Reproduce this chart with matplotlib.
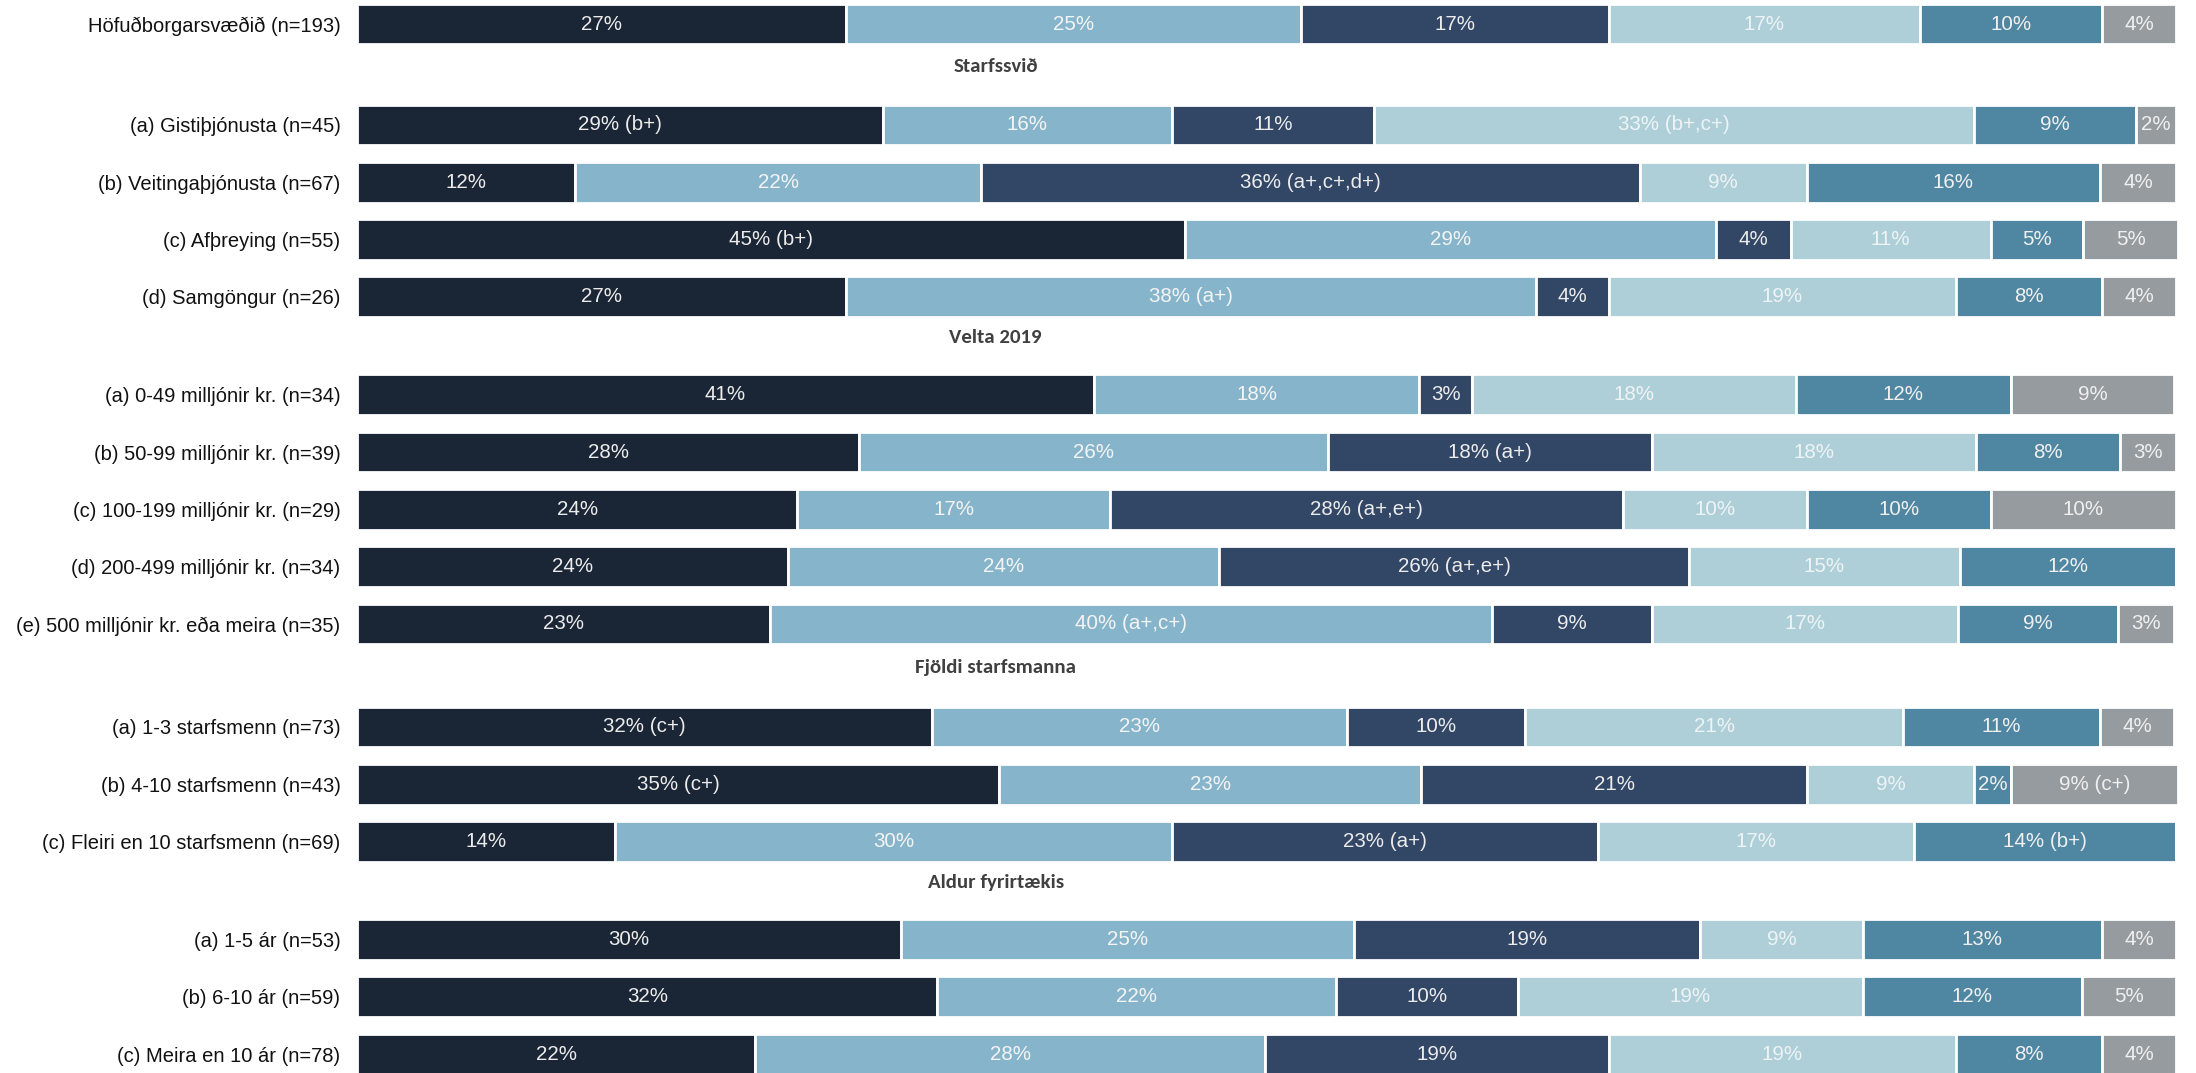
import matplotlib
matplotlib.use("Agg")
import matplotlib.pyplot as plt
import numpy as np

# Rows, grouped under bold section headers (first row has no header)
groups = ["", "Starfssvið", "Velta 2019", "Fjöldi starfsmanna", "Aldur fyrirtækis"]
row_labels = [
    ["Höfuðborgarsvæðið (n=193)"],
    ["(a) Gistiþjónusta (n=45)", "(b) Veitingaþjónusta (n=67)",
     "(c) Afþreying (n=55)", "(d) Samgöngur (n=26)"],
    ["(a) 0-49 milljónir kr. (n=34)", "(b) 50-99 milljónir kr. (n=39)",
     "(c) 100-199 milljónir kr. (n=29)", "(d) 200-499 milljónir kr. (n=34)",
     "(e) 500 milljónir kr. eða meira (n=35)"],
    ["(a) 1-3 starfsmenn (n=73)", "(b) 4-10 starfsmenn (n=43)",
     "(c) Fleiri en 10 starfsmenn (n=69)"],
    ["(a) 1-5 ár (n=53)", "(b) 6-10 ár (n=59)", "(c) Meira en 10 ár (n=78)"],
]

# Segment shares (%) per row, six answer categories
values = [
    [26.9, 25.0, 16.9, 17.1, 10.0, 4.1],
    [28.9, 15.9, 11.1, 33.0, 8.9, 2.2],
    [12.0, 22.3, 36.2, 9.2, 16.1, 4.2],
    [45.5, 29.2, 4.1, 11.0, 5.1, 5.2],
    [26.9, 37.9, 4.0, 19.1, 8.0, 4.1],
    [40.5, 17.9, 2.9, 17.8, 11.8, 9.0],
    [27.6, 25.8, 17.8, 17.8, 7.9, 3.1],
    [24.2, 17.2, 28.2, 10.1, 10.1, 10.2],
    [23.7, 23.7, 25.8, 14.9, 11.9, 0.0],
    [22.7, 39.7, 8.8, 16.8, 8.8, 3.1],
    [31.6, 22.8, 9.8, 20.8, 10.8, 4.1],
    [35.3, 23.2, 21.2, 9.2, 2.0, 9.2],
    [14.2, 30.6, 23.4, 17.4, 14.4, 0.0],
    [29.9, 24.9, 19.0, 9.0, 13.1, 4.1],
    [31.9, 21.9, 10.0, 19.0, 12.0, 5.2],
    [21.9, 28.0, 18.9, 19.1, 8.0, 4.1],
]

# Text printed inside each segment ("" = no label)
seg_text = [
    ["27%", "25%", "17%", "17%", "10%", "4%"],
    ["29% (b+)", "16%", "11%", "33% (b+,c+)", "9%", "2%"],
    ["12%", "22%", "36% (a+,c+,d+)", "9%", "16%", "4%"],
    ["45% (b+)", "29%", "4%", "11%", "5%", "5%"],
    ["27%", "38% (a+)", "4%", "19%", "8%", "4%"],
    ["41%", "18%", "3%", "18%", "12%", "9%"],
    ["28%", "26%", "18% (a+)", "18%", "8%", "3%"],
    ["24%", "17%", "28% (a+,e+)", "10%", "10%", "10%"],
    ["24%", "24%", "26% (a+,e+)", "15%", "12%", ""],
    ["23%", "40% (a+,c+)", "9%", "17%", "9%", "3%"],
    ["32% (c+)", "23%", "10%", "21%", "11%", "4%"],
    ["35% (c+)", "23%", "21%", "9%", "2%", "9% (c+)"],
    ["14%", "30%", "23% (a+)", "17%", "14% (b+)", ""],
    ["30%", "25%", "19%", "9%", "13%", "4%"],
    ["32%", "22%", "10%", "19%", "12%", "5%"],
    ["22%", "28%", "19%", "19%", "8%", "4%"],
]

colors = ["#1a2535", "#86b5cb", "#324666", "#aecfd8", "#4f87a2", "#959b9e"]
text_colors = ["#ececec", "#f4f4f4", "#ececec", "#eef4f6", "#f0f0f0", "#f0f0f0"]

label_font = ["Liberation Sans", "DejaVu Sans"]
header_font = ["Carlito", "DejaVu Sans"]

# extra space (in rows) that each header slot adds
group_gap = [0.0, 0.76, 0.71, 0.80, 0.71]

# --------------------------------------------------------------
# Row positions: one unit per row, extra gap where a header sits
y_pos, y_names, headers = [], [], []
y = 0.0
for g, (name, rows) in enumerate(zip(groups, row_labels)):
    if g > 0:
        headers.append((y - 1 + 0.42 * (1 + group_gap[g]), name))
        y += group_gap[g]
    for r in rows:
        y_pos.append(y)
        y_names.append(r)
        y += 1

values = np.array(values)
fig = plt.figure(figsize=(21.96, 10.73), dpi=100)
ax = fig.add_axes([0.1626, 0.0, 0.8292, 1.0])

left = np.zeros(len(values))
for k in range(values.shape[1]):
    ax.barh(y_pos, values[:, k], left=left, height=0.71, color=colors[k],
            edgecolor="white", linewidth=2)
    for i in range(len(values)):
        txt = seg_text[i][k]
        if txt and values[i, k] > 0:
            ax.text(left[i] + values[i, k] / 2, y_pos[i], txt,
                    ha="center", va="center", color=text_colors[k],
                    fontsize=14.8, family=label_font)
    left += values[:, k]

for hy, name in headers:
    ax.text(35.1, hy, name, ha="center", va="center", fontsize=15,
            fontweight="bold", color="#404040", family=header_font)

ax.set_yticks(y_pos)
ax.set_yticklabels(y_names, fontsize=14.5, family=label_font, color="#111111")
ax.tick_params(axis="y", length=0, pad=12)
ax.set_xticks([])
ax.set_xlim(0, left.max())
ax.set_ylim(18.31, -0.42)
for s in ax.spines.values():
    s.set_visible(False)

fig.savefig("out.png", dpi=100)
